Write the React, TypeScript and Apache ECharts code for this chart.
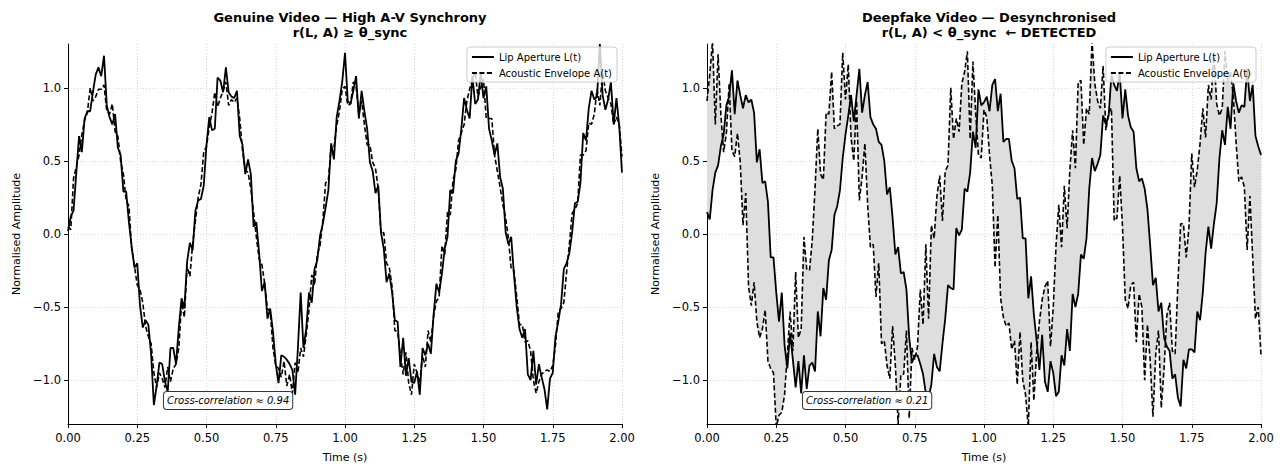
import React, { useEffect, useRef } from "react";
import * as echarts from "echarts";

// Sampling step of all four signals (seconds); samples run from 0.00 s to 2.00 s
const SAMPLE_STEP = 0.01;

const X_TICKS = [0, 0.25, 0.5, 0.75, 1, 1.25, 1.5, 1.75, 2];
const Y_TICKS = [-1, -0.5, 0, 0.5, 1];

const TITLE_GENUINE = "Genuine Video — High A-V Synchrony\nr(L, A) ≥ θ_sync";
const TITLE_FAKE = "Deepfake Video — Desynchronised\nr(L, A) < θ_sync  ← DETECTED";
const NAME_LIP = "Lip Aperture L(t)";
const NAME_AC = "Acoustic Envelope A(t)";
const NOTE_GENUINE = "Cross-correlation ≈ 0.94";
const NOTE_FAKE = "Cross-correlation ≈ 0.21";

const GENUINE_LIP = [
  0.02, 0.12, 0.16, 0.42, 0.67, 0.56, 0.79, 0.84, 0.84, 0.97,
  1.09, 1.14, 1.08, 1.22, 0.88, 0.8, 0.75, 0.82, 0.59, 0.54,
  0.29, 0.29, 0.08, -0.09, -0.23, -0.2, -0.49, -0.64, -0.59, -0.62,
  -0.82, -1.17, -1.04, -0.88, -0.89, -1.01, -1.08, -0.78, -0.78, -0.89,
  -0.64, -0.44, -0.51, -0.19, -0.06, -0.11, 0.16, 0.23, 0.24, 0.33,
  0.61, 0.8, 0.71, 0.72, 1.07, 1.05, 0.97, 1.14, 0.97, 0.94,
  0.93, 0.98, 0.67, 0.61, 0.41, 0.51, 0.41, 0.05, 0.08, -0.13,
  -0.39, -0.33, -0.58, -0.51, -0.67, -0.89, -1.02, -0.83, -0.84, -0.86,
  -0.89, -0.93, -1.1, -0.78, -0.4, -0.78, -0.65, -0.4, -0.47, -0.24,
  -0.18, -0.01, 0.07, 0.18, 0.3, 0.62, 0.51, 0.8, 0.91, 1.04,
  1.24, 0.91, 0.89, 0.98, 1.08, 0.79, 0.98, 0.84, 0.72, 0.49,
  0.43, 0.28, 0.33, 0.01, -0.1, -0.33, -0.27, -0.4, -0.59, -0.6,
  -0.91, -0.71, -0.97, -0.85, -1.01, -1.02, -0.94, -1.1, -0.78, -0.83,
  -0.75, -0.82, -0.55, -0.34, -0.4, -0.27, -0.1, -0.02, 0.3, 0.28,
  0.5, 0.55, 0.72, 0.93, 0.85, 0.79, 1.08, 0.89, 0.92, 1.1,
  0.93, 1.01, 0.72, 0.64, 0.54, 0.62, 0.39, 0.31, 0.01, -0.07,
  -0.02, -0.28, -0.5, -0.65, -0.71, -0.65, -0.96, -1.0, -0.8, -1.03,
  -0.89, -0.98, -1.06, -1.2, -0.99, -0.95, -0.7, -0.6, -0.48, -0.24,
  -0.2, -0.13, 0.01, 0.21, 0.22, 0.35, 0.69, 0.64, 0.86, 0.98,
  0.92, 0.94, 1.3, 0.95, 0.85, 0.92, 1.04, 0.75, 0.93, 0.74,
  0.42,
];

const GENUINE_ACOUSTIC = [
  0.05, 0.03, 0.38, 0.46, 0.54, 0.68, 0.78, 0.83, 1.0, 0.91,
  0.94, 0.99, 0.99, 1.02, 0.84, 0.82, 0.89, 0.7, 0.67, 0.5,
  0.41, 0.23, 0.19, -0.1, -0.22, -0.35, -0.38, -0.47, -0.63, -0.7,
  -0.75, -0.95, -1.05, -0.95, -0.99, -1.05, -0.91, -1.01, -0.92, -0.89,
  -0.78, -0.47, -0.57, -0.22, -0.29, -0.07, 0.09, 0.25, 0.34, 0.56,
  0.6, 0.73, 0.83, 0.97, 0.87, 0.93, 0.98, 1.04, 0.88, 0.92,
  0.9, 0.93, 0.79, 0.57, 0.44, 0.42, 0.31, 0.15, -0.02, -0.17,
  -0.21, -0.34, -0.51, -0.53, -0.78, -0.9, -0.92, -0.98, -0.87, -1.04,
  -0.96, -1.09, -0.88, -0.95, -0.78, -0.84, -0.69, -0.52, -0.28, -0.35,
  -0.14, -0.08, 0.09, 0.35, 0.37, 0.6, 0.59, 0.74, 0.84, 0.99,
  1.01, 0.88, 0.89, 1.04, 1.01, 0.82, 0.91, 0.75, 0.61, 0.61,
  0.49, 0.45, 0.31, 0.0, 0.01, -0.2, -0.23, -0.36, -0.66, -0.67,
  -0.83, -0.96, -0.81, -1.02, -1.1, -0.89, -0.95, -1.02, -0.83, -0.91,
  -0.66, -0.74, -0.56, -0.46, -0.43, -0.08, -0.14, 0.15, 0.13, 0.37,
  0.44, 0.64, 0.69, 0.75, 0.91, 0.99, 1.06, 1.11, 0.94, 1.0,
  1.06, 0.79, 0.79, 0.79, 0.54, 0.43, 0.32, 0.2, 0.11, -0.03,
  -0.24, -0.25, -0.43, -0.62, -0.62, -0.74, -0.73, -0.8, -1.0, -1.09,
  -1.01, -0.96, -0.94, -0.93, -0.94, -0.9, -0.76, -0.53, -0.51, -0.47,
  -0.26, -0.07, 0.14, 0.17, 0.21, 0.54, 0.54, 0.57, 0.76, 0.75,
  0.82, 0.99, 0.88, 1.11, 0.98, 0.93, 0.89, 0.75, 0.8, 0.75,
  0.53,
];

const FAKE_LIP = [
  0.15, 0.1, 0.3, 0.42, 0.47, 0.6, 0.68, 0.88, 0.94, 1.12,
  0.82, 1.05, 0.95, 0.86, 0.95, 0.9, 0.92, 0.83, 0.49, 0.58,
  0.35, 0.36, 0.22, -0.16, -0.16, -0.4, -0.6, -0.4, -0.76, -0.92,
  -0.68, -0.86, -1.05, -0.87, -1.09, -0.83, -1.06, -0.9, -0.88, -0.94,
  -0.53, -0.7, -0.37, -0.45, -0.18, -0.11, 0.13, 0.19, 0.3, 0.52,
  0.68, 0.81, 0.95, 0.77, 0.95, 1.13, 0.83, 0.95, 1.04, 0.8,
  0.75, 0.72, 0.63, 0.61, 0.5, 0.27, 0.32, 0.11, -0.14, -0.09,
  -0.27, -0.26, -0.38, -0.71, -0.88, -0.83, -0.83, -0.89, -0.96, -1.09,
  -1.12, -1.03, -0.82, -0.91, -0.94, -0.75, -0.58, -0.35, -0.37, -0.38,
  0.04, -0.01, 0.03, 0.31, 0.29, 0.42, 0.7, 0.59, 0.99, 0.88,
  0.9, 0.94, 0.84, 1.02, 1.06, 0.84, 0.96, 0.63, 0.65, 0.65,
  0.5, 0.45, 0.24, 0.25, -0.03, -0.03, -0.44, -0.29, -0.55, -0.73,
  -0.93, -0.69, -1.01, -1.08, -0.87, -0.95, -1.11, -1.08, -0.83, -0.9,
  -0.65, -0.8, -0.41, -0.5, -0.41, -0.14, -0.17, -0.03, 0.31, 0.52,
  0.43, 0.48, 0.54, 0.81, 0.75, 0.81, 1.09, 1.02, 0.98, 1.1,
  0.79, 0.99, 0.81, 0.73, 0.7, 0.45, 0.36, 0.38, 0.31, 0.17,
  -0.08, -0.35, -0.3, -0.53, -0.47, -0.71, -0.77, -0.8, -0.99, -0.96,
  -1.12, -1.18, -0.86, -0.92, -0.79, -0.79, -0.81, -0.53, -0.59, -0.4,
  -0.13, 0.05, -0.1, 0.07, 0.21, 0.52, 0.71, 0.61, 0.87, 0.72,
  1.03, 0.91, 0.83, 0.88, 0.87, 1.13, 0.91, 1.02, 0.67, 0.6,
  0.54,
];

const FAKE_ACOUSTIC = [
  0.91, 1.09, 1.32, 0.75, 1.23, 0.82, 0.56, 0.69, 1.03, 0.57,
  0.53, 0.69, 0.49, 0.06, 0.28, -0.36, -0.49, -0.33, -0.6, -0.71,
  -0.65, -0.52, -0.87, -0.92, -0.95, -1.32, -1.24, -1.22, -1.1, -0.82,
  -0.53, -0.8, -0.26, -0.71, -0.65, -0.02, -0.24, -0.25, -0.04, 0.31,
  0.72, 0.41, 0.37, 0.83, 0.82, 1.11, 0.72, 0.74, 0.75, 1.24,
  0.92, 1.16, 0.66, 0.5, 0.91, 0.23, 0.39, 0.62, 0.2, -0.09,
  -0.07, -0.43, -0.2, -0.75, -0.73, -0.9, -0.99, -0.63, -0.9, -1.3,
  -0.96, -0.96, -0.66, -1.26, -0.78, -0.86, -0.77, -0.38, -0.62, -0.07,
  -0.58, 0.06, -0.03, 0.26, 0.4, 0.09, 0.43, 0.47, 1.0, 0.65,
  0.79, 0.7, 1.03, 1.11, 1.25, 0.65, 1.18, 0.83, 0.54, 0.52,
  0.85, 0.8, 0.54, 0.33, -0.23, 0.13, -0.44, -0.57, -0.63, -0.61,
  -0.79, -0.73, -1.03, -0.67, -1.0, -1.1, -1.32, -0.74, -1.14, -0.81,
  -0.6, -0.45, -0.36, -0.32, -0.77, -0.5, -0.08, 0.2, -0.09, 0.33,
  0.04, 0.44, 0.71, 0.45, 1.04, 1.05, 0.61, 0.86, 0.82, 1.32,
  1.03, 0.91, 0.86, 1.15, 0.71, 0.83, 0.86, 0.09, 0.11, 0.4,
  0.05, -0.45, -0.51, -0.35, -0.33, -0.74, -0.41, -0.5, -1.0, -0.62,
  -0.87, -1.25, -0.82, -0.66, -1.19, -0.92, -0.56, -0.47, -0.8, -0.82,
  -0.34, 0.07, 0.07, -0.16, 0.05, 0.55, 0.32, 0.44, 0.62, 0.86,
  0.66, 1.02, 0.92, 1.24, 0.89, 0.81, 0.86, 1.25, 1.04, 1.11,
  0.94, 0.63, 0.36, 0.39, 0.32, -0.11, 0.26, -0.16, -0.58, -0.5,
  -0.83,
];

const FONT = "DejaVu Sans";
const INK = "#000000";

const toPairs = (vals: number[]) =>
  vals.map((v, i) => [Number((i * SAMPLE_STEP).toFixed(2)), v]);

const fmtY = (v: number) => {
  const s = Math.abs(v).toFixed(1);
  return v < -1e-9 ? "\u2212" + s : s;
};

function makeXAxis(gridIndex: number) {
  return {
    type: "value",
    gridIndex,
    min: 0,
    max: 2,
    interval: 0.25,
    name: "Time (s)",
    nameLocation: "middle",
    nameGap: 28,
    nameTextStyle: { fontFamily: FONT, fontSize: 11, color: INK },
    axisLine: { show: true, onZero: false, lineStyle: { color: INK, width: 1 } },
    axisTick: { show: true, length: 4, lineStyle: { color: INK, width: 1 } },
    axisLabel: {
      fontFamily: FONT,
      fontSize: 11.5,
      color: INK,
      margin: 8,
      formatter: (v: number) => v.toFixed(2),
    },
    splitLine: {
      show: true,
      lineStyle: { color: "#d2d2d2", width: 0.8, type: [1, 2] },
    },
  };
}

function makeYAxis(gridIndex: number) {
  return {
    type: "value",
    gridIndex,
    min: -1.3,
    max: 1.3,
    name: "Normalised Amplitude",
    nameLocation: "middle",
    nameGap: 46,
    nameRotate: 90,
    nameTextStyle: { fontFamily: FONT, fontSize: 11, color: INK },
    axisLine: { show: true, onZero: false, lineStyle: { color: INK, width: 1 } },
    axisTick: {
      show: true,
      length: 4,
      customValues: Y_TICKS,
      lineStyle: { color: INK, width: 1 },
    },
    axisLabel: {
      fontFamily: FONT,
      fontSize: 11.5,
      color: INK,
      margin: 7,
      customValues: Y_TICKS,
      formatter: (v: number) => fmtY(v),
    },
    splitLine: {
      show: true,
      customValues: Y_TICKS,
      lineStyle: { color: "#d2d2d2", width: 0.8, type: [1, 2] },
    },
  };
}

function noteMark(text: string) {
  return {
    silent: true,
    symbol: "circle",
    symbolSize: 1,
    itemStyle: { color: "rgba(0,0,0,0)" },
    label: {
      show: true,
      position: "inside",
      formatter: text,
      fontFamily: FONT,
      fontStyle: "italic",
      fontSize: 10,
      color: INK,
      backgroundColor: "#ffffff",
      borderColor: "#333333",
      borderWidth: 1,
      borderRadius: 3,
      padding: [4, 3, 3, 3],
    },
    data: [{ coord: [0.578, -1.14] }],
  };
}

function lineSeries(name: string, vals: number[], idx: number, dashed: boolean, mark?: any) {
  return {
    type: "line",
    name,
    xAxisIndex: idx,
    yAxisIndex: idx,
    data: toPairs(vals),
    showSymbol: false,
    symbol: "none",
    clip: true,
    z: 3,
    lineStyle: {
      color: INK,
      width: dashed ? 1.6 : 1.8,
      type: dashed ? [5, 2.5] : "solid",
    },
    itemStyle: { color: INK },
    markPoint: mark,
  };
}

function makeLegend(right: number) {
  return {
    orient: "vertical",
    right,
    top: 47,
    data: [NAME_LIP, NAME_AC],
    selectedMode: false,
    itemWidth: 22,
    itemHeight: 10,
    itemGap: 6,
    padding: [5, 5, 4, 4],
    backgroundColor: "rgba(255,255,255,0.8)",
    borderColor: "#cccccc",
    borderWidth: 1,
    borderRadius: 3,
    itemStyle: { opacity: 0, borderWidth: 0 },
    textStyle: { fontFamily: FONT, fontSize: 10, color: INK },
  };
}

export default function App() {
  const ref = useRef<HTMLDivElement>(null);

  useEffect(() => {
    document.body.style.margin = "0";
    if (!ref.current) return;
    const chart = echarts.init(ref.current, null, { renderer: "svg" });

    const fillSeries = {
      type: "custom",
      xAxisIndex: 1,
      yAxisIndex: 1,
      data: [[0, 0]],
      clip: true,
      silent: true,
      z: 1,
      renderItem: (params: any, api: any) => {
        if (params.dataIndex !== 0) return null;
        const top = toPairs(FAKE_LIP).map((p) => api.coord(p));
        const bottom = toPairs(FAKE_ACOUSTIC)
          .map((p) => api.coord(p))
          .reverse();
        return {
          type: "polygon",
          shape: { points: top.concat(bottom) },
          style: { fill: "#dedede", stroke: "none" },
        };
      },
    };

    const titleStyle = {
      fontFamily: FONT,
      fontSize: 13,
      fontWeight: "bold",
      color: INK,
      lineHeight: 15,
    };

    const option: any = {
      animation: false,
      backgroundColor: "#ffffff",
      textStyle: { fontFamily: FONT },
      title: [
        { text: TITLE_GENUINE, left: 345, top: 5, textAlign: "center", textStyle: titleStyle },
        { text: TITLE_FAKE, left: 984, top: 5, textAlign: "center", textStyle: titleStyle },
      ],
      legend: [makeLegend(665), makeLegend(26)],
      grid: [
        { left: 68, top: 44, width: 554, height: 380, outerBoundsMode: "none", containLabel: false },
        { left: 707, top: 44, width: 554, height: 380, outerBoundsMode: "none", containLabel: false },
      ],
      xAxis: [makeXAxis(0), makeXAxis(1)],
      yAxis: [makeYAxis(0), makeYAxis(1)],
      series: [
        lineSeries(NAME_LIP, GENUINE_LIP, 0, false, noteMark(NOTE_GENUINE)),
        lineSeries(NAME_AC, GENUINE_ACOUSTIC, 0, true),
        fillSeries,
        lineSeries(NAME_LIP, FAKE_LIP, 1, false, noteMark(NOTE_FAKE)),
        lineSeries(NAME_AC, FAKE_ACOUSTIC, 1, true),
      ],
    };

    chart.setOption(option);
    return () => chart.dispose();
  }, []);

  return <div ref={ref} style={{ width: 1282, height: 464 }} />;
}
